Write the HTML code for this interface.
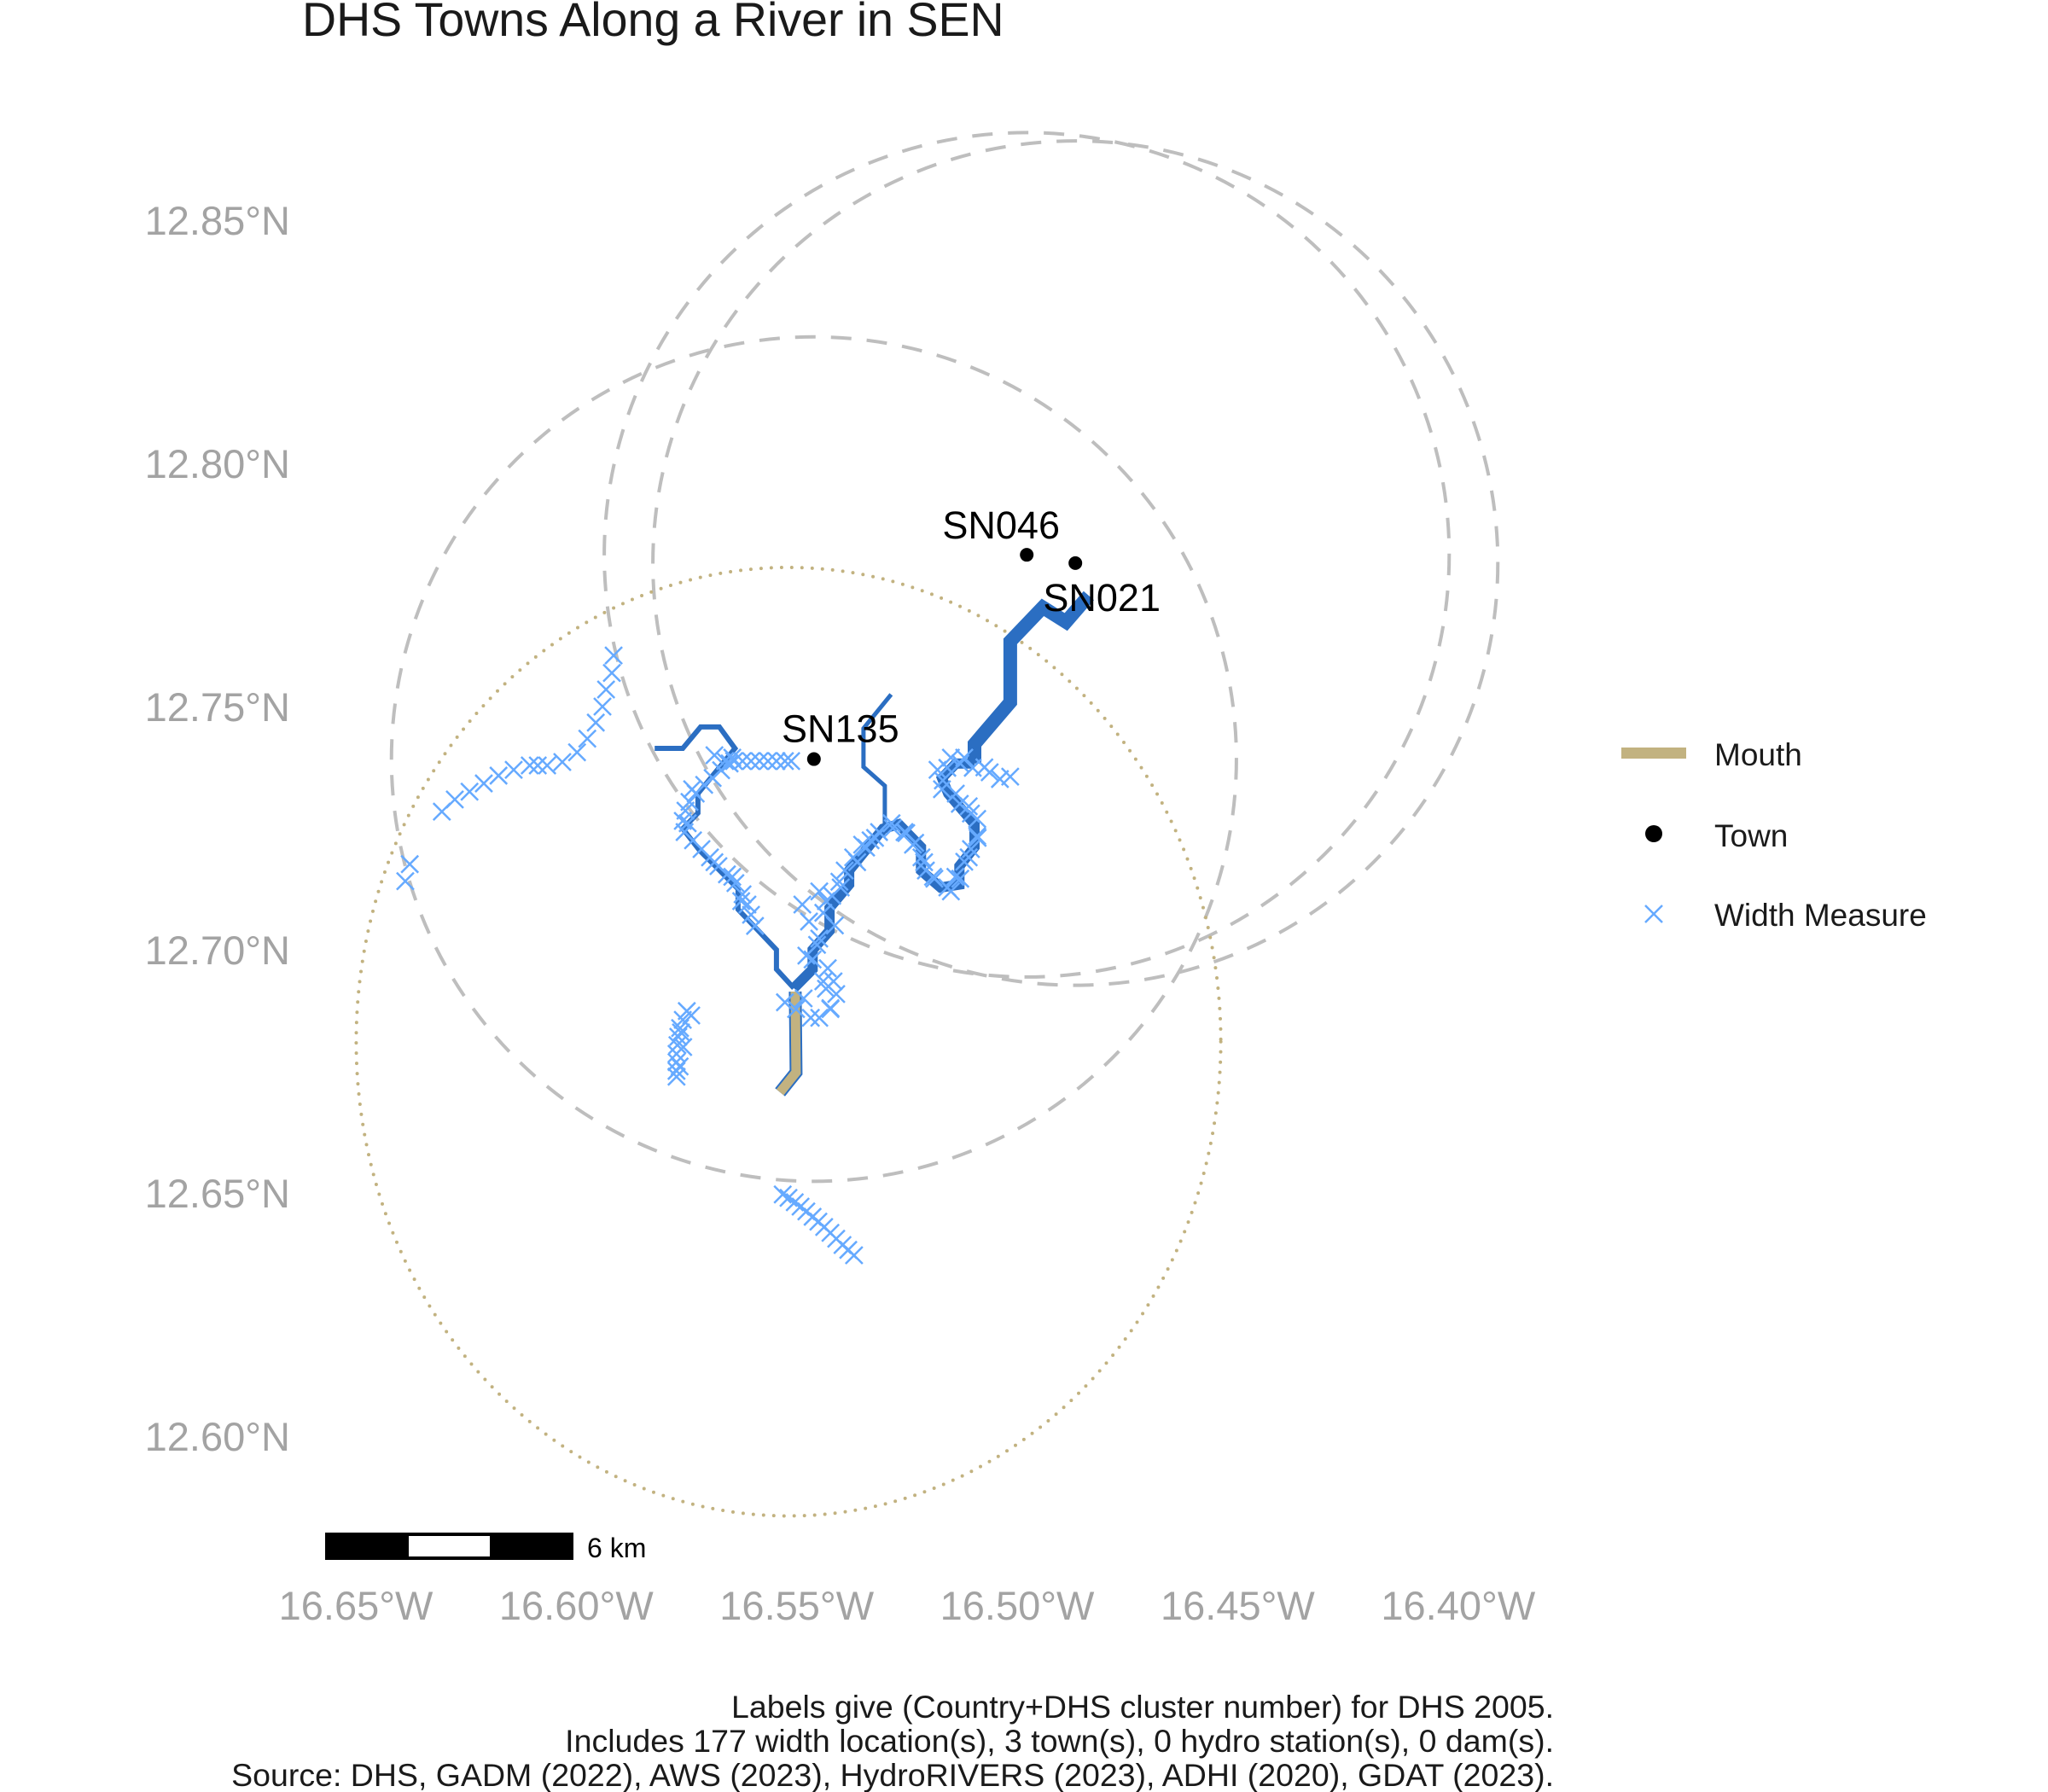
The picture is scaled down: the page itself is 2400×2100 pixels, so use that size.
<!DOCTYPE html>
<html><head><meta charset="utf-8"><title>DHS Towns Along a River in SEN</title>
<style>
html,body{margin:0;padding:0;background:#fff;}
svg{display:block;font-family:"Liberation Sans",Arial,sans-serif;}
</style></head>
<body>
<svg id="chart" width="2400" height="2100" viewBox="0 0 2400 2100" xmlns="http://www.w3.org/2000/svg">
<rect x="0" y="0" width="2400" height="2100" fill="#fff"/>
<text x="354" y="42" font-size="55.5" fill="#1a1a1a">DHS Towns Along a River in SEN</text>
<g id="circles"></g>
<g id="rivers"></g>
<g id="marks"></g>
<g id="towns"></g>
<g id="yaxis"></g>
<g id="xaxis"></g>
<g>
<rect x="381" y="1796" width="291" height="32" fill="#000"/>
<rect x="479" y="1800" width="95" height="24" fill="#fff"/>
<text x="688" y="1825" font-size="32" fill="#000">6 km</text>
</g>
<g>
<rect x="1900" y="876" width="76" height="13" fill="#c2b280"/>
<text x="2009" y="897" font-size="37" fill="#1a1a1a">Mouth</text>
<circle cx="1938" cy="977" r="10" fill="#000"/>
<text x="2009" y="992" font-size="37" fill="#1a1a1a">Town</text>
<path d="M1928 1061 L1948 1081 M1948 1061 L1928 1081" stroke="#66aaff" stroke-width="2.5"/>
<text x="2009" y="1085" font-size="37" fill="#1a1a1a">Width Measure</text>
</g>
<g font-size="37.5" fill="#1a1a1a" text-anchor="end">
<text x="1821" y="2013">Labels give (Country+DHS cluster number) for DHS 2005.</text>
<text x="1821" y="2053">Includes 177 width location(s), 3 town(s), 0 hydro station(s), 0 dam(s).</text>
<text x="1821" y="2093">Source: DHS, GADM (2022), AWS (2023), HydroRIVERS (2023), ADHI (2020), GDAT (2023).</text>
</g>
</svg>
<script>
const latTicks = [12.85, 12.80, 12.75, 12.70, 12.65, 12.60];
const latTickLabels = ["12.85°N","12.80°N","12.75°N","12.70°N","12.65°N","12.60°N"];
const lonTicks = [-16.65, -16.60, -16.55, -16.50, -16.45, -16.40];
const lonTickLabels = ["16.65°W","16.60°W","16.55°W","16.50°W","16.45°W","16.40°W"];

const townNames = ["SN135","SN046","SN021"];
const townLon = [-16.5477, -16.5000, -16.4891];
const townLat = [12.7392, 12.7812, 12.7795];
const townRadiusLon = [0.0947, 0.0947, 0.0947];
const townRadiusLat = [0.0868, 0.0868, 0.0868];

const mouthCircleLon = -16.5534;
const mouthCircleLat = 12.6811;
const mouthRadiusLon = 0.0969;
const mouthRadiusLat = 0.0975;

const mainRiverLower = [[-16.5522,12.6921],[-16.5480,12.6960],[-16.5480,12.7000],[-16.5442,12.7039],[-16.5442,12.7086],[-16.5398,12.7134],[-16.5398,12.7163],[-16.5322,12.7249],[-16.5287,12.7258],[-16.5237,12.7211],[-16.5237,12.7163],[-16.5193,12.7128],[-16.5151,12.7134],[-16.5151,12.7172],[-16.5117,12.7211],[-16.5117,12.7258],[-16.5176,12.7321],[-16.5190,12.7353],[-16.5159,12.7383],[-16.5117,12.7383]];
const mainRiverUpper = [[-16.5117,12.7383],[-16.5117,12.7423],[-16.5037,12.7509],[-16.5037,12.7634],[-16.4964,12.7704],[-16.4912,12.7674],[-16.4861,12.7728]];
const leftTributary = [[-16.5522,12.6921],[-16.5561,12.6960],[-16.5561,12.7000],[-16.5647,12.7083],[-16.5647,12.7125],[-16.5733,12.7204],[-16.5771,12.7249],[-16.5737,12.7281],[-16.5737,12.7321],[-16.5654,12.7414],[-16.5689,12.7458],[-16.5731,12.7458],[-16.5771,12.7414],[-16.5834,12.7414]];
const midTributary = [[-16.5318,12.7258],[-16.5318,12.7337],[-16.5366,12.7376],[-16.5366,12.7455],[-16.5304,12.7525]];
const mouthSegment = [[-16.5519,12.6914],[-16.5517,12.6748],[-16.5553,12.6707]];

const widthLon = [
-16.5926,-16.5930,-16.5943,-16.5951,-16.5966,-16.5985,-16.6008,-16.6041,-16.6075,-16.6096,-16.6114,-16.6150,-16.6184,-16.6217,-16.6249,-16.6282,-16.6311,-16.6383,-16.6393,
-16.5676,-16.5656,-16.5637,-16.5618,-16.5599,-16.5580,-16.5561,-16.5542,-16.5528,
-16.5666,-16.5685,-16.5704,-16.5723,-16.5742,-16.5756,-16.5765,-16.5771,-16.5767,-16.5748,-16.5729,-16.5710,-16.5691,-16.5672,-16.5653,-16.5637,-16.5626,-16.5618,-16.5609,
-16.5494,-16.5465,-16.5488,-16.5456,-16.5503,-16.5436,-16.5417,-16.5465,-16.5408,-16.5389,-16.5369,-16.5350,-16.5331,-16.5303,-16.5274,-16.5255,-16.5236,-16.5226,-16.5207,-16.5178,-16.5149,-16.5140,-16.5125,-16.5111,-16.5111,-16.5130,-16.5159,-16.5188,-16.5178,-16.5149,-16.5121,-16.5083,-16.5060,-16.5037,
-16.5542,-16.5517,-16.5484,-16.5465,-16.5440,-16.5427,-16.5433,-16.5446,-16.5456,
-16.5762,-16.5771,-16.5777,-16.5781,-16.5783,-16.5785,-16.5785,-16.5785,-16.5785,-16.5752,
-16.5547,-16.5534,-16.5520,-16.5507,-16.5494,-16.5480,-16.5467,-16.5454,-16.5440,-16.5427,-16.5413,-16.5400,-16.5387,
-16.5480,-16.5470,-16.5430,-16.5450,-16.5420,-16.5380,-16.5360,-16.5340,-16.5300,-16.5270,-16.5250,-16.5230,-16.5210,-16.5170,-16.5160,-16.5130,-16.5110,-16.5125,-16.5150,-16.5190,-16.5200,-16.5170,-16.5140,-16.5095,
-16.5500,-16.5450,-16.5440,
-16.5750,-16.5760,-16.5700,-16.5660,-16.5640,-16.5700,-16.5660,
-16.5775,-16.5770,-16.5778];
const widthLat = [
12.7605,12.7569,12.7535,12.7500,12.7467,12.7434,12.7406,12.7386,12.7379,12.7379,12.7379,12.7370,12.7358,12.7342,12.7325,12.7309,12.7284,12.7176,12.7141,
12.7388,12.7388,12.7388,12.7388,12.7388,12.7388,12.7388,12.7388,12.7388,
12.7383,12.7369,12.7353,12.7339,12.7321,12.7304,12.7286,12.7265,12.7242,12.7225,12.7207,12.7190,12.7172,12.7155,12.7137,12.7114,12.7093,12.7072,12.7049,
12.6988,12.7023,12.7058,12.7076,12.7093,12.7111,12.7128,12.7120,12.7163,12.7190,12.7216,12.7225,12.7242,12.7260,12.7242,12.7216,12.7190,12.7163,12.7146,12.7128,12.7146,12.7181,12.7207,12.7234,12.7269,12.7295,12.7321,12.7348,12.7374,12.7383,12.7374,12.7365,12.7351,12.7356,
12.6892,12.6878,12.6860,12.6860,12.6878,12.6909,12.6935,12.6962,12.6935,
12.6874,12.6856,12.6839,12.6821,12.6804,12.6786,12.6769,12.6751,12.6739,12.6865,
12.6497,12.6490,12.6481,12.6472,12.6462,12.6451,12.6441,12.6430,12.6418,12.6406,12.6393,12.6383,12.6372,
12.6980,12.7010,12.7050,12.7100,12.7140,12.7180,12.7210,12.7230,12.7250,12.7240,12.7220,12.7180,12.7150,12.7120,12.7150,12.7190,12.7230,12.7280,12.7300,12.7330,12.7370,12.7395,12.7395,12.7375,
12.6900,12.6920,12.6880,
12.7330,12.7260,12.7180,12.7150,12.7100,12.7400,12.7395,
12.6830,12.6800,12.6760];

const NS = "http://www.w3.org/2000/svg";
function X(lon){ return 419 + (lon + 16.65) * 5228; }
function Y(lat){ return 258 + (12.85 - lat) * 5700; }
function XT(lon){ return 417 + (lon + 16.65) * 5167; }
function mk(tag, attrs, parent){
  const el = document.createElementNS(NS, tag);
  for (const k in attrs) el.setAttribute(k, attrs[k]);
  parent.appendChild(el);
  return el;
}
function pts(arr){ return arr.map(p => X(p[0]).toFixed(1) + "," + Y(p[1]).toFixed(1)).join(" "); }

const ya = document.getElementById("yaxis");
latTicks.forEach((v, i) => {
  const t = mk("text", {x: 340, y: (Y(v) + 17).toFixed(1), "font-size": 47, fill: "#a3a3a3", "text-anchor": "end"}, ya);
  
  
  t.textContent = latTickLabels[i];
});
const xa = document.getElementById("xaxis");
lonTicks.forEach((v, i) => {
  const t = mk("text", {x: XT(v).toFixed(1), y: 1898, "font-size": 47, fill: "#a3a3a3", "text-anchor": "middle"}, xa);
  
  
  t.textContent = lonTickLabels[i];
});

const cg = document.getElementById("circles");
townLon.forEach((lon, i) => {
  const rx = X(lon + townRadiusLon[i]) - X(lon);
  const ry = Y(townLat[i] - townRadiusLat[i]) - Y(townLat[i]);
  const e = mk("ellipse", {cx: X(lon), cy: Y(townLat[i]), rx: rx, ry: ry, fill: "none", stroke: "#bebebe", "stroke-width": 4, "stroke-dasharray": "24 18"}, cg);
  
  
});
{
  const rx = X(mouthCircleLon + mouthRadiusLon) - X(mouthCircleLon);
  const ry = Y(mouthCircleLat - mouthRadiusLat) - Y(mouthCircleLat);
  const e = mk("ellipse", {cx: X(mouthCircleLon), cy: Y(mouthCircleLat), rx: rx, ry: ry, fill: "none", stroke: "#c2b280", "stroke-width": 4, "stroke-dasharray": "0 12", "stroke-linecap": "round"}, cg);
  
  
}

const rg = document.getElementById("rivers");
const riverBlue = "#2b6ec2";
function line(arr, w, color, name){
  const p = mk("polyline", {points: pts(arr), fill: "none", stroke: color, "stroke-width": w, "stroke-linejoin": "miter", "stroke-linecap": "butt"}, rg);
  
  
}
line(leftTributary, 6, riverBlue, 'left-tributary');
line(midTributary, 5, riverBlue, 'middle-tributary');
line(mainRiverLower, 12, riverBlue, 'main-river-lower');
line(mainRiverUpper, 16, riverBlue, 'main-river-upper');
line(mouthSegment, 15, riverBlue, 'mouth-outline');
line(mouthSegment, 11, "#c2b280", 'river-mouth');

const mg = document.getElementById("marks");
widthLon.forEach((lon, i) => {
  const x = X(lon), y = Y(widthLat[i]), s = 10;
  const p = mk("path", {d: `M${x-s} ${y-s} L${x+s} ${y+s} M${x+s} ${y-s} L${x-s} ${y+s}`, stroke: "#66aaff", "stroke-width": 2.5, fill: "none"}, mg);
  
  
});

const tg = document.getElementById("towns");
const labelDx = [31, -30, 31];
const labelDy = [-20, -19, 56];
townLon.forEach((lon, i) => {
  const c = mk("circle", {cx: X(lon), cy: Y(townLat[i]), r: 8, fill: "#000"}, tg);
  
  
  const t = mk("text", {x: X(lon) + labelDx[i], y: Y(townLat[i]) + labelDy[i], "font-size": 45, fill: "#000", "text-anchor": "middle"}, tg);
  
  
  t.textContent = townNames[i];
});
</script>
</body></html>
